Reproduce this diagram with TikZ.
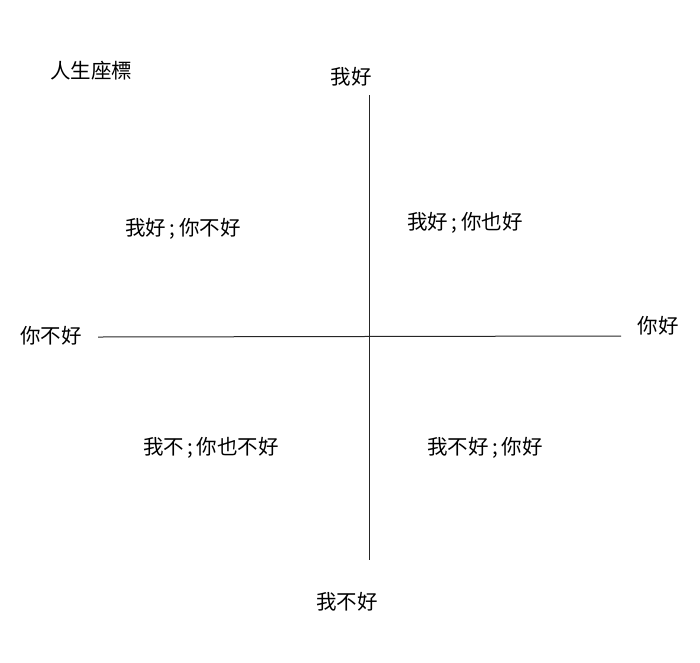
\documentclass[tikz,border=0pt]{standalone}
\usepackage{fontspec}
\setmainfont{Noto Sans CJK TC}
\begin{document}
\begin{tikzpicture}[x=1pt,y=-1pt,
  lbl/.style={inner sep=0pt, font=\fontsize{20.5}{22}\selectfont},
  axis/.style={line width=1pt, draw=black!85}]
\useasboundingbox (0,0) rectangle (700,662);
\node[lbl] (title) at (91,71) {人生座標};
\node[lbl] (top) at (351,77) {我好};
\node[lbl] (bottom) at (347,602) {我不好};
\node[lbl] (left) at (51,336) {你不好};
\node[lbl] (right) at (658,326) {你好};
\node[lbl] (q2) at (183,229) {我好\,;\,你不好};
\node[lbl] (q1) at (465,223) {我好\,;\,你也好};
\node[lbl] (q3) at (211,448) {我不\,;\,你也不好};
\node[lbl] (q4) at (485,448) {我不好\,;\,你好};
\coordinate (vt) at (369,95);
\coordinate (vb) at (369,560);
\coordinate (hl) at (98,337);
\coordinate (hr) at (621,336);
\draw[axis] (vt) -- (vb);
\draw[axis] (hl) -- (hr);
\end{tikzpicture}
\end{document}
